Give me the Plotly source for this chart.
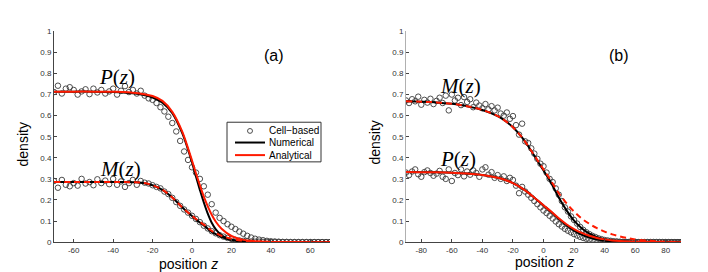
import plotly.graph_objects as go

# ---------------- panel (a) ----------------
zA_curve = [-70, -60, -50, -40, -35, -30, -25, -20, -15, -10, -5, -2, 0, 2, 4, 6, 8, 10, 12, 15, 20, 25, 30, 35, 40, 50, 60, 70]
P_ana_A = [0.714, 0.714, 0.714, 0.713, 0.712, 0.709, 0.703, 0.693, 0.670, 0.618, 0.525, 0.445, 0.387, 0.327, 0.270, 0.216, 0.170, 0.130, 0.098, 0.063, 0.029, 0.013, 0.006, 0.0025, 0.001, 0.0002, 0.0, 0.0]
P_num_A = [0.714, 0.714, 0.714, 0.712, 0.710, 0.706, 0.699, 0.686, 0.662, 0.612, 0.518, 0.438, 0.378, 0.312, 0.248, 0.188, 0.135, 0.092, 0.062, 0.032, 0.011, 0.004, 0.0015, 0.0005, 0.0002, 0.0, 0.0, 0.0]
M_ana_A = [0.285, 0.285, 0.285, 0.285, 0.285, 0.284, 0.281, 0.270, 0.248, 0.212, 0.165, 0.140, 0.125, 0.110, 0.096, 0.083, 0.068, 0.053, 0.044, 0.030, 0.016, 0.008, 0.004, 0.002, 0.001, 0.0, 0.0, 0.0]
M_num_A = [0.285, 0.285, 0.285, 0.285, 0.285, 0.284, 0.281, 0.270, 0.248, 0.212, 0.165, 0.140, 0.124, 0.108, 0.093, 0.079, 0.063, 0.048, 0.038, 0.024, 0.010, 0.004, 0.001, 0.0005, 0.0, 0.0, 0.0, 0.0]

zA_cells = list(range(-70, 71, 2))
P_cells_A = [0.712, 0.742, 0.705, 0.728, 0.735, 0.722, 0.700, 0.715, 0.725, 0.702,
             0.728, 0.710, 0.722, 0.705, 0.715, 0.728, 0.700, 0.718, 0.740, 0.712,
             0.722, 0.705, 0.718, 0.695, 0.682, 0.675, 0.660, 0.640, 0.620, 0.595,
             0.565, 0.525, 0.480, 0.430, 0.390, 0.355, 0.330, 0.300, 0.265, 0.225,
             0.180, 0.140, 0.115, 0.100, 0.085, 0.073, 0.062, 0.050, 0.040, 0.030,
             0.022, 0.016, 0.012, 0.009, 0.006, 0.004, 0.003, 0.002, 0.001, 0.001,
             0.0, 0.0, 0.0, 0.0, 0.0, 0.0, 0.0, 0.0, 0.0, 0.0, 0.0]
M_cells_A = [0.290, 0.258, 0.295, 0.272, 0.265, 0.280, 0.268, 0.300, 0.278, 0.285,
             0.270, 0.298, 0.280, 0.292, 0.275, 0.300, 0.272, 0.288, 0.262, 0.280,
             0.295, 0.272, 0.290, 0.282, 0.278, 0.270, 0.262, 0.255, 0.240, 0.228,
             0.210, 0.190, 0.172, 0.155, 0.140, 0.125, 0.110, 0.095, 0.078, 0.065,
             0.052, 0.042, 0.033, 0.026, 0.020, 0.015, 0.011, 0.008, 0.006, 0.004,
             0.003, 0.002, 0.002, 0.001, 0.001, 0.0, 0.0, 0.0, 0.0, 0.0,
             0.0, 0.0, 0.0, 0.0, 0.0, 0.0, 0.0, 0.0, 0.0, 0.0, 0.0]

# ---------------- panel (b) ----------------
zB_curve = [-90, -80, -70, -60, -50, -40, -30, -25, -20, -15, -10, -5, 0, 5, 10, 15, 20, 25, 30, 35, 40, 45, 50, 55, 60, 70, 80, 90]
M_ana_B = [0.668, 0.666, 0.663, 0.656, 0.645, 0.627, 0.598, 0.575, 0.545, 0.505, 0.455, 0.400, 0.345, 0.290, 0.232, 0.185, 0.145, 0.112, 0.087, 0.066, 0.050, 0.037, 0.027, 0.019, 0.013, 0.006, 0.002, 0.001]
M_num_B = [0.668, 0.666, 0.663, 0.656, 0.645, 0.627, 0.598, 0.575, 0.545, 0.505, 0.455, 0.398, 0.340, 0.280, 0.212, 0.152, 0.102, 0.066, 0.040, 0.023, 0.013, 0.007, 0.004, 0.002, 0.001, 0.0, 0.0, 0.0]
P_ana_B = [0.333, 0.332, 0.331, 0.329, 0.325, 0.318, 0.305, 0.295, 0.280, 0.260, 0.235, 0.205, 0.175, 0.145, 0.113, 0.085, 0.062, 0.044, 0.030, 0.020, 0.013, 0.008, 0.005, 0.003, 0.002, 0.001, 0.0, 0.0]
P_num_B = [0.333, 0.332, 0.331, 0.329, 0.325, 0.318, 0.305, 0.295, 0.280, 0.260, 0.235, 0.205, 0.174, 0.143, 0.110, 0.080, 0.055, 0.036, 0.022, 0.013, 0.007, 0.004, 0.002, 0.001, 0.0, 0.0, 0.0, 0.0]

zB_cells = list(range(-90, 91, 2))
M_cells_B = [0.672, 0.660, 0.678, 0.668, 0.690, 0.652, 0.675, 0.662, 0.680, 0.655,
             0.670, 0.685, 0.660, 0.695, 0.625, 0.700, 0.672, 0.685, 0.650, 0.688,
             0.665, 0.678, 0.640, 0.662, 0.648, 0.635, 0.655, 0.630, 0.645, 0.625,
             0.638, 0.610, 0.600, 0.615, 0.585, 0.598, 0.555, 0.510, 0.562, 0.478,
             0.470, 0.445, 0.420, 0.395, 0.372, 0.360, 0.330, 0.300, 0.285, 0.255,
             0.225, 0.195, 0.165, 0.145, 0.122, 0.105, 0.088, 0.072, 0.058, 0.047,
             0.038, 0.030, 0.024, 0.018, 0.014, 0.010, 0.008, 0.006, 0.004, 0.003,
             0.002, 0.001, 0.001, 0.001, 0.0, 0.0, 0.0, 0.0, 0.0, 0.0,
             0.0, 0.0, 0.0, 0.0, 0.0, 0.0, 0.0, 0.0, 0.0, 0.0, 0.0]
P_cells_B = [0.330, 0.318, 0.335, 0.345, 0.322, 0.310, 0.332, 0.340, 0.328, 0.315,
             0.325, 0.338, 0.310, 0.300, 0.345, 0.290, 0.328, 0.318, 0.345, 0.312,
             0.335, 0.320, 0.340, 0.328, 0.310, 0.345, 0.355, 0.320, 0.332, 0.305,
             0.318, 0.300, 0.312, 0.290, 0.305, 0.295, 0.268, 0.232, 0.262, 0.240,
             0.225, 0.210, 0.195, 0.180, 0.165, 0.150, 0.138, 0.125, 0.112, 0.098,
             0.085, 0.074, 0.063, 0.054, 0.046, 0.038, 0.031, 0.025, 0.020, 0.016,
             0.012, 0.009, 0.007, 0.005, 0.004, 0.003, 0.002, 0.002, 0.001, 0.001,
             0.0, 0.0, 0.0, 0.0, 0.0, 0.0, 0.0, 0.0, 0.0, 0.0,
             0.0, 0.0, 0.0, 0.0, 0.0, 0.0, 0.0, 0.0, 0.0, 0.0, 0.0]

y_ticks = [0, 0.1, 0.2, 0.3, 0.4, 0.5, 0.6, 0.7, 0.8, 0.9, 1]
y_tick_text = ["0", "0.1", "0.2", "0.3", "0.4", "0.5", "0.6", "0.7", "0.8", "0.9", "1"]
xA_ticks = [-60, -40, -20, 0, 20, 40, 60]
xA_tick_text = ["-60", "-40", "-20", "0", "20", "40", "60"]
xB_ticks = [-80, -60, -40, -20, 0, 20, 40, 60, 80]
xB_tick_text = ["-80", "-60", "-40", "-20", "0", "20", "40", "60", "80"]
legend_labels = ["Cell−based", "Numerical", "Analytical"]

RED = "#ff1a00"
CIRC = "#3a3a3a"
W, H = 708, 272

fig = go.Figure()

def add_panel(xa, ya, z_cells, cells1, cells2, z_curve, num1, ana1, num2, ana2, dash1, dash2):
    circ = dict(symbol="circle-open", size=5.5, color=CIRC, line=dict(width=0.9, color=CIRC))
    for cells in (cells1, cells2):
        fig.add_trace(go.Scatter(x=z_cells, y=cells, mode="markers", marker=circ,
                                 xaxis=xa, yaxis=ya))
    for num in (num1, num2):
        fig.add_trace(go.Scatter(x=z_curve, y=num, mode="lines",
                                 line=dict(color="black", width=2, shape="spline"),
                                 xaxis=xa, yaxis=ya))
    for ana, dash in ((ana1, dash1), (ana2, dash2)):
        fig.add_trace(go.Scatter(x=z_curve, y=ana, mode="lines",
                                 line=dict(color=RED, width=2, dash=dash, shape="spline"),
                                 xaxis=xa, yaxis=ya))

add_panel("x", "y", zA_cells, P_cells_A, M_cells_A, zA_curve, P_num_A, P_ana_A, M_num_A, M_ana_A,
          "solid", "6px,4px")
add_panel("x2", "y2", zB_cells, M_cells_B, P_cells_B, zB_curve, M_num_B, M_ana_B, P_num_B, P_ana_B,
          "6px,4px", "solid")

tickfont = dict(family="Liberation Sans, Arial, sans-serif", size=8, color="#333333")
ydom = [1 - 238 / H, 1 - 20 / H]

common_x = dict(showgrid=False, zeroline=False, showline=True, linecolor="#444444", linewidth=1,
                ticks="inside", ticklen=3, tickcolor="#444444", tickfont=tickfont, mirror=False)
common_y = dict(showgrid=False, zeroline=False, showline=True, linewidth=1,
                ticks="inside", ticklen=3, tickcolor="#444444", tickfont=tickfont, mirror=False,
                range=[0, 1], tickvals=y_ticks, ticktext=y_tick_text)

fig.update_layout(
    width=W, height=H,
    margin=dict(l=0, r=0, t=0, b=0),
    paper_bgcolor="white", plot_bgcolor="white",
    showlegend=False,
    xaxis=dict(domain=[46 / W, 322 / W], range=[-70, 70], tickvals=xA_ticks, ticktext=xA_tick_text,
               anchor="y", **common_x),
    yaxis=dict(domain=ydom, anchor="x", linecolor="#444444", **common_y),
    xaxis2=dict(domain=[398 / W, 673 / W], range=[-90, 90], tickvals=xB_ticks, ticktext=xB_tick_text,
                anchor="y2", **common_x),
    yaxis2=dict(domain=ydom, anchor="x2", linecolor="#b0b0b0", **common_y),
)

# ---- legend box (drawn in paper pixels) ----
def px(x):
    return x / W

def py(y):
    return 1 - y / H

shapes = [
    dict(type="rect", xref="paper", yref="paper", x0=px(219), x1=px(313), y0=py(155), y1=py(114),
         line=dict(color="#333333", width=1), fillcolor="white", layer="above"),
    dict(type="circle", xref="paper", yref="paper", x0=px(239.5), x1=px(244.5), y0=py(125.5), y1=py(120.5),
         line=dict(color=CIRC, width=0.9), fillcolor="rgba(0,0,0,0)", layer="above"),
    dict(type="line", xref="paper", yref="paper", x0=px(227), x1=px(257), y0=py(135), y1=py(135),
         line=dict(color="black", width=2), layer="above"),
    dict(type="line", xref="paper", yref="paper", x0=px(227), x1=px(257), y0=py(148), y1=py(148),
         line=dict(color=RED, width=2), layer="above"),
]
fig.update_layout(shapes=shapes)

legfont = dict(family="Liberation Sans, Arial, sans-serif", size=10, color="black")
serif = dict(family="Liberation Serif, DejaVu Serif, serif", size=21, color="black")
sans_title = dict(family="Liberation Sans, Arial, sans-serif", size=14, color="black")
ann = [
    dict(x=px(259), y=py(122.5), text=legend_labels[0], font=legfont, xanchor="left"),
    dict(x=px(259), y=py(135), text=legend_labels[1], font=legfont, xanchor="left"),
    dict(x=px(259), y=py(148), text=legend_labels[2], font=legfont, xanchor="left"),
    dict(x=px(109), y=py(67), text="<i>P</i>(<i>z</i>)", font=serif),
    dict(x=px(112), y=py(162), text="<i>M</i>(<i>z</i>)", font=serif),
    dict(x=px(452), y=py(77), text="<i>M</i>(<i>z</i>)", font=serif),
    dict(x=px(450), y=py(152), text="<i>P</i>(<i>z</i>)", font=serif),
    dict(x=px(266), y=py(45), text="(a)", font=dict(family="Liberation Sans, Arial, sans-serif", size=16, color="black")),
    dict(x=px(611), y=py(45), text="(b)", font=dict(family="Liberation Sans, Arial, sans-serif", size=16, color="black")),
    dict(x=px(15), y=py(137), text="density", textangle=-90, font=sans_title),
    dict(x=px(367), y=py(135), text="density", textangle=-90, font=sans_title),
    dict(x=px(180), y=py(261), text="position <i>z</i>", font=sans_title),
    dict(x=px(536), y=py(259), text="position <i>z</i>", font=sans_title),
]
for a in ann:
    a.setdefault("xanchor", "center")
    a.update(xref="paper", yref="paper", showarrow=False, yanchor="middle")
fig.update_layout(annotations=ann)

fig.write_html("out.html")
